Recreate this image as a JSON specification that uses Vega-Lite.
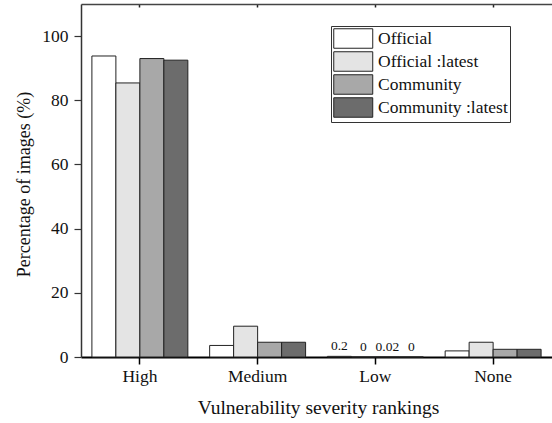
{
  "$schema": "https://vega.github.io/schema/vega-lite/v6.json",
  "width": 471,
  "height": 353,
  "autosize": "none",
  "padding": {"left": 81, "top": 4, "right": 0, "bottom": 66},
  "background": "white",
  "config": {
    "font": "Liberation Serif",
    "view": {"stroke": null},
    "axis": {"labelFont": "Liberation Serif", "titleFont": "Liberation Serif"},
    "legend": {"labelFont": "Liberation Serif"},
    "text": {"font": "Liberation Serif"}
  },
  "data": {
    "values": [
      {"rank": "High", "series": "Official", "value": 93.8},
      {"rank": "High", "series": "Official :latest", "value": 85.4},
      {"rank": "High", "series": "Community", "value": 93.0},
      {"rank": "High", "series": "Community :latest", "value": 92.5},
      {"rank": "Medium", "series": "Official", "value": 3.6},
      {"rank": "Medium", "series": "Official :latest", "value": 9.6},
      {"rank": "Medium", "series": "Community", "value": 4.6},
      {"rank": "Medium", "series": "Community :latest", "value": 4.6},
      {"rank": "Low", "series": "Official", "value": 0.2},
      {"rank": "Low", "series": "Official :latest", "value": 0},
      {"rank": "Low", "series": "Community", "value": 0.02},
      {"rank": "Low", "series": "Community :latest", "value": 0},
      {"rank": "None", "series": "Official", "value": 1.9},
      {"rank": "None", "series": "Official :latest", "value": 4.6},
      {"rank": "None", "series": "Community", "value": 2.4},
      {"rank": "None", "series": "Community :latest", "value": 2.4}
    ]
  },
  "resolve": {"axis": {"x": "independent"}},
  "layer": [
    {
      "mark": {"type": "bar", "stroke": "#222", "strokeWidth": 1},
      "encoding": {
        "x": {
          "field": "rank", "type": "nominal",
          "sort": ["High", "Medium", "Low", "None"],
          "scale": {"paddingInner": 0.185, "paddingOuter": 0.0925},
          "axis": {
            "orient": "bottom", "title": "Vulnerability severity rankings",
            "labelAngle": 0, "labelFontSize": 17.5, "labelColor": "#111", "labelPadding": 3,
            "domainColor": "#000", "domainWidth": 2, "tickColor": "#000", "tickWidth": 1.5, "tickSize": 7,
            "titleFontSize": 19.5, "titleFontWeight": "normal", "titleColor": "#111",
            "titleX": 237, "titleY": 56, "titleBaseline": "alphabetic"
          }
        },
        "xOffset": {
          "field": "series", "type": "nominal",
          "sort": ["Official", "Official :latest", "Community", "Community :latest"],
          "scale": {"paddingInner": 0, "paddingOuter": 0}
        },
        "y": {
          "field": "value", "type": "quantitative",
          "scale": {"domain": [0, 110], "nice": false},
          "axis": {
            "title": "Percentage of images (%)",
            "values": [0, 10, 20, 30, 40, 50, 60, 70, 80, 90, 100],
            "labelExpr": "datum.value % 20 == 0 ? datum.label : ''",
            "labelFontSize": 17.5, "labelColor": "#111", "labelPadding": 6,
            "grid": false,
            "domainColor": "#333", "domainWidth": 1.5, "tickColor": "#333", "tickWidth": 1.2,
            "tickSize": {"condition": {"test": "datum.value % 20 != 0", "value": 4}, "value": 7},
            "titleFontSize": 18, "titleFontWeight": "normal", "titleColor": "#111",
            "titleX": -57, "titleY": 180, "titleAngle": -90, "titleBaseline": "middle", "titleAlign": "center"
          }
        },
        "fill": {
          "field": "series", "type": "nominal",
          "scale": {
            "domain": ["Official", "Official :latest", "Community", "Community :latest"],
            "range": ["#ffffff", "#e4e4e4", "#a8a8a8", "#6c6c6c"]
          },
          "legend": {
            "title": null, "orient": "none", "legendX": 250, "legendY": 22,
            "strokeColor": "#333", "padding": 2, "fillColor": "white",
            "symbolType": "M-1,-1H3V1H-1Z", "symbolSize": 380,
            "symbolStrokeColor": "#222", "symbolStrokeWidth": 1,
            "labelFontSize": 17.5, "labelColor": "#111", "labelOffset": 24,
            "rowPadding": -3.5, "labelLimit": 300
          }
        }
      }
    },
    {
      "mark": {"type": "tick", "opacity": 0},
      "encoding": {
        "x": {
          "field": "rank", "type": "nominal",
          "sort": ["High", "Medium", "Low", "None"],
          "axis": {
            "orient": "top", "title": null, "labels": false,
            "domainColor": "#444", "domainWidth": 1.5, "tickColor": "#222", "tickWidth": 1.5, "tickSize": -3
          }
        }
      }
    },
    {
      "transform": [{"filter": "datum.rank == 'Low'"}],
      "mark": {"type": "text", "baseline": "alphabetic", "dy": -6, "fontSize": 13.5, "color": "#111", "font": "Liberation Serif"},
      "encoding": {
        "x": {"field": "rank", "type": "nominal", "sort": ["High", "Medium", "Low", "None"], "axis": null},
        "xOffset": {"field": "series", "type": "nominal", "sort": ["Official", "Official :latest", "Community", "Community :latest"]},
        "y": {"field": "value", "type": "quantitative"},
        "text": {"field": "value", "type": "nominal"}
      }
    }
  ]
}
